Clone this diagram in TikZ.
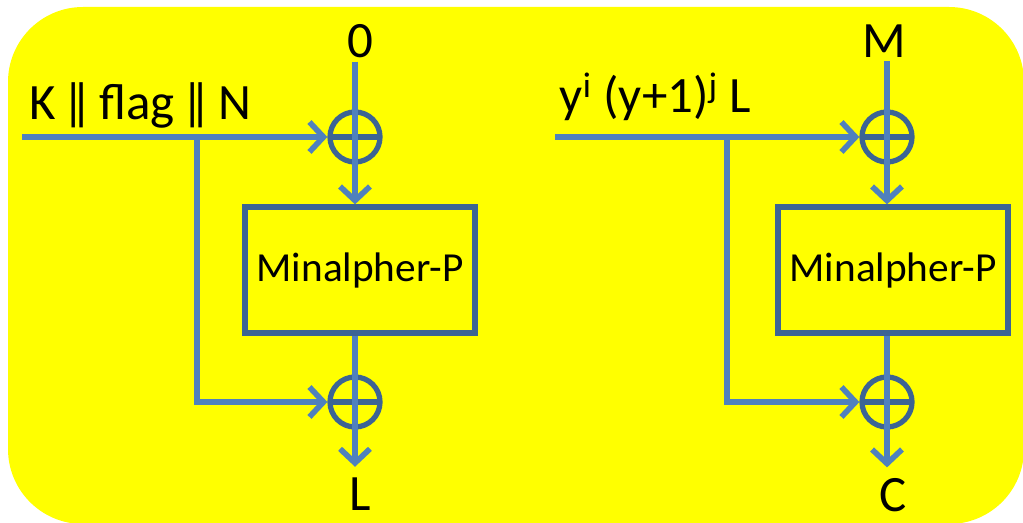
\documentclass[tikz,border=0pt]{standalone}
\usepackage{fontspec}
\setmainfont{Carlito}
\usetikzlibrary{positioning, arrows.meta}
\definecolor{flowblue}{HTML}{4F81BD}
\definecolor{edgeblue}{HTML}{3C6494}
\definecolor{bgyellow}{HTML}{FFFF00}

\tikzset{
  flow/.style={draw=flowblue, line width=3.2pt},
  xor/.style={draw=edgeblue, circle, line width=3pt, minimum size=1cm, inner sep=0pt,
    path picture={\draw[edgeblue, line width=3pt] (path picture bounding box.west) -- (path picture bounding box.east);}},
  perm/.style={draw=edgeblue, rectangle, line width=3pt, minimum width=4.6cm, minimum height=2.52cm,
    font=\fontsize{23.5}{28}\selectfont},
  lbl/.style={font=\fontsize{29}{34}\selectfont, inner sep=2pt}
}

\begin{document}
\begin{tikzpicture}[x=0.02cm, y=-0.02cm, >={Straight Barb[length=8pt, width=17pt]}]
        \useasboundingbox (0,0) rectangle (1023,523);
        \fill[bgyellow, rounded corners=1.5cm] (8,7) rectangle (1024,524);

        % left half
        \node (xa) [xor] at (355,137) {};
        \node (xb) [xor] at (355,402) {};
        \node (pa) [perm] at (360,270) {Minalpher-P};
        \node (zero) [lbl] at (360,41) {0};
        \node (lout) [lbl, inner sep=1pt] at (360,494) {L};
        \node (kn) [lbl, anchor=base west] at (26,120) {K ‖ flag ‖ N};
        \coordinate (ina) at (22,137);
        \coordinate (sa) at (197,137);

        % right half
        \node (xc) [xor] at (887,137) {};
        \node (xd) [xor] at (887,402) {};
        \node (pb) [perm] at (893,270) {Minalpher-P};
        \node (mm) [lbl] at (884,41) {M};
        \node (cout) [lbl, inner sep=1pt] at (893,495) {C};
        \node (yl) [lbl, anchor=base west] at (556,113) {y\textsuperscript{i} (y+1)\textsuperscript{j} L};
        \coordinate (inb) at (555,137);
        \coordinate (sb) at (727,137);

        \draw[flow, ->] (ina) -- (xa.west);
        \draw[flow, ->] (sa) -- (sa |- xb) -- (xb.west);
        \draw[flow, ->] (xa |- zero.south) -- (xa.center) -- (xa |- pa.north);
        \draw[flow, ->, shorten >=5pt] (xa |- pa.south) -- (xb.center) -- (xb |- lout.north);

        \draw[flow, ->] (inb) -- (xc.west);
        \draw[flow, ->] (sb) -- (sb |- xd) -- (xd.west);
        \draw[flow, ->] (xc |- mm.south) -- (xc.center) -- (xc |- pb.north);
        \draw[flow, ->, shorten >=5pt] (xc |- pb.south) -- (xd.center) -- (xd |- cout.north);
\end{tikzpicture}
\end{document}
